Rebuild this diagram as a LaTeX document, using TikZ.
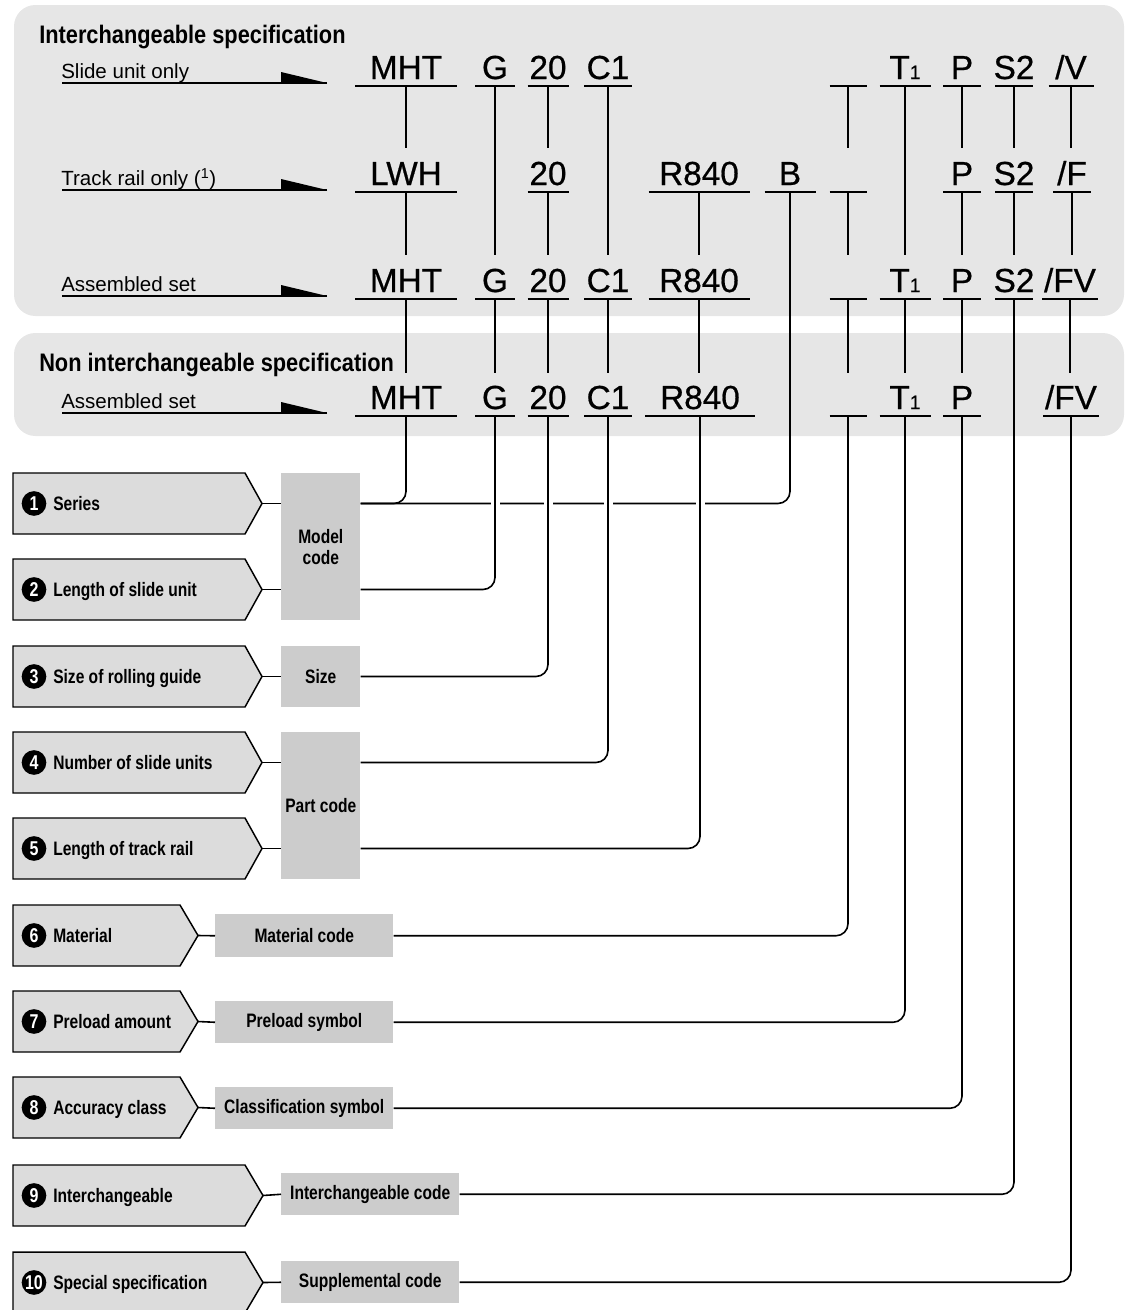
\documentclass[tikz,border=0pt]{standalone}
\usepackage{fontspec}
\setmainfont{Liberation Sans}
\newfontfamily\cond[FakeStretch=0.8]{Liberation Sans}
\newfontfamily\condt[FakeStretch=0.86]{Liberation Sans}
\newfontfamily\codefont[FakeBold=0.6]{Liberation Sans}
\usetikzlibrary{calc}
\definecolor{panelgray}{HTML}{E6E6E6}
\definecolor{pentgray}{HTML}{DCDCDC}
\definecolor{boxgray}{HTML}{CCCCCC}
\tikzset{
  codetxt/.style={font=\codefont\fontsize{25}{25}\selectfont, inner sep=0pt, anchor=base},
  arrlab/.style={font=\fontsize{15.4}{15.4}\selectfont, inner sep=0pt, anchor=base west},
  titletxt/.style={font=\condt\bfseries\fontsize{19}{19}\selectfont, inner sep=0pt, anchor=base west},
  uline/.style={line width=1.2pt},
  conn/.style={line width=1.2pt, rounded corners=9pt},
  pent/.style={fill=pentgray, draw=black, line width=1.1pt},
  numc/.style={circle, fill=black, text=white, inner sep=0pt, minimum size=18.5pt, font=\cond\bfseries\fontsize{15}{15}\selectfont},
  lbl/.style={font=\cond\bfseries\fontsize{14.6}{14.6}\selectfont, inner sep=0pt, anchor=base west},
  cbox/.style={fill=boxgray, inner sep=0pt, align=center, anchor=north west, font=\cond\bfseries\fontsize{14.6}{15.5}\selectfont},
  eraser/.style={draw=white, line width=3pt},
}
% name, x, underline y, half width, text
\newcommand\mkcode[5]{%
  \node[codetxt] (#1) at (#2,#3-7) {#5};
  \draw[uline] (#2-#4,#3) -- (#2+#4,#3);
  \coordinate (#1u) at (#2,#3);
}
% name, line y, text
\newcommand\rowarrow[3]{%
  \node[arrlab] (#1) at (61,#2-5) {#3};
  \coordinate (#1a) at (62,#2);
  \coordinate (#1b) at (327,#2);
  \draw[uline] (#1a) -- (#1b);
  \fill (281,#2-11) -- (281,#2) -- (#1b) -- cycle;
}
% name, top, flat end, tip x, number, text
\newcommand\mkpent[6]{%
  \draw[pent] (13,#2) -- (#3,#2) -- (#4,#2+30.5) -- (#3,#2+61) -- (13,#2+61) -- cycle;
  \coordinate (p#1) at (#4,#2+30.5);
  \node[numc] (n#1) at (34,#2+30.5) {#5};
  \node[lbl] (l#1) at (53,#2+37.5) {#6};
}
\newcommand\Tone{T{\fontsize{14.5}{14.5}\selectfont 1}}
\begin{document}
\begin{tikzpicture}[x=0.75pt,y=-0.75pt]
\useasboundingbox (0,0) rectangle (1125,1310);

% panels
\fill[panelgray, rounded corners=16pt] (14,5) rectangle (1124,316);
\fill[panelgray, rounded corners=16pt] (14,333) rectangle (1124,436);

\node[titletxt] (title1) at (39,43) {Interchangeable specification};
\node[titletxt] (title2) at (39,371) {Non interchangeable specification};

\rowarrow{aslide}{83}{Slide unit only}
\rowarrow{atrack}{190}{Track rail only (\textsuperscript{1})}
\rowarrow{aset}{296}{Assembled set}
\rowarrow{anset}{413}{Assembled set}

\coordinate (stop2) at (0,148);
\coordinate (stop3) at (0,255);
\coordinate (stop4) at (0,373);

% row 1
\mkcode{ra}{406}{86}{51}{MHT}
\mkcode{rag}{495}{86}{20}{G}
\mkcode{ras}{548}{86}{20.5}{20}
\mkcode{rac}{608}{86}{24}{C1}
\mkcode{rab}{848}{86}{18.5}{}
\mkcode{rat}{905}{86}{25.5}{\Tone}
\mkcode{rap}{962}{86}{19}{P}
\mkcode{rai}{1014}{86}{19}{S2}
\mkcode{rav}{1071}{86}{22.5}{/V}
% row 2
\mkcode{rb}{406}{192}{51}{LWH}
\mkcode{rbs}{548}{192}{20.5}{20}
\mkcode{rbr}{699}{192}{50.5}{R840}
\mkcode{rbB}{790}{192}{25.5}{B}
\mkcode{rbb}{848}{192}{18.5}{}
\mkcode{rbp}{962}{192}{19}{P}
\mkcode{rbi}{1014}{192}{19}{S2}
\mkcode{rbv}{1072}{192}{19}{/F}
% row 3
\mkcode{rc}{406}{299}{51}{MHT}
\mkcode{rcg}{495}{299}{20}{G}
\mkcode{rcs}{548}{299}{20.5}{20}
\mkcode{rcc}{608}{299}{24}{C1}
\mkcode{rcr}{699}{299}{50.5}{R840}
\mkcode{rcb}{848}{299}{18.5}{}
\mkcode{rct}{905}{299}{25.5}{\Tone}
\mkcode{rcp}{962}{299}{19}{P}
\mkcode{rci}{1014}{299}{19}{S2}
\mkcode{rcv}{1070}{299}{28}{/FV}
% row 4
\mkcode{rd}{406}{416}{51}{MHT}
\mkcode{rdg}{495}{416}{20}{G}
\mkcode{rds}{548}{416}{20.5}{20}
\mkcode{rdc}{608}{416}{24}{C1}
\mkcode{rdr}{700}{416}{55}{R840}
\mkcode{rdb}{848}{416}{18.5}{}
\mkcode{rdt}{905}{416}{25.5}{\Tone}
\mkcode{rdp}{962}{416}{19}{P}
\mkcode{rdv}{1071}{416}{28}{/FV}

% links row 1
\foreach \n in {ra,ras,rab,rap,rai,rav} \draw[conn] (\n u) -- (\n u |- stop2);
\foreach \n in {rag,rac,rat} \draw[conn] (\n u) -- (\n u |- stop3);
% links row 2
\foreach \n in {rb,rbs,rbr,rbb,rbp,rbi,rbv} \draw[conn] (\n u) -- (\n u |- stop3);
% links row 3
\foreach \n in {rc,rcg,rcs,rcc,rcr,rcb,rct,rcp,rcv} \draw[conn] (\n u) -- (\n u |- stop4);

% pentagons
\mkpent{1}{473}{245}{262}{1}{Series}
\mkpent{2}{559}{245}{262}{2}{Length of slide unit}
\mkpent{3}{646}{245}{262}{3}{Size of rolling guide}
\mkpent{4}{732}{245}{262}{4}{Number of slide units}
\mkpent{5}{818}{245}{262}{5}{Length of track rail}
\mkpent{6}{905}{180}{198}{6}{Material}
\mkpent{7}{991}{180}{198}{7}{Preload amount}
\mkpent{8}{1077}{180}{198}{8}{Accuracy class}
\mkpent{9}{1165}{245}{263}{9}{Interchangeable}
\mkpent{10}{1252}{245}{263}{10}{Special specification}

% code boxes
\node[cbox, minimum width=59.25pt, minimum height=110.25pt] (model) at (281,473) {Model\\code};
\node[cbox, minimum width=59.25pt, minimum height=45.75pt] (size) at (281,646) {Size};
\node[cbox, minimum width=59.25pt, minimum height=110.25pt] (part) at (281,732) {Part code};
\node[cbox, minimum width=133.5pt, minimum height=32.25pt] (mat) at (215,914) {Material code};
\node[cbox, minimum width=133.5pt, minimum height=31.5pt] (pre) at (215,1001) {Preload symbol};
\node[cbox, minimum width=133.5pt, minimum height=31.5pt] (cls) at (215,1087) {Classification symbol};
\node[cbox, minimum width=133.5pt, minimum height=31.5pt] (int) at (281,1173) {Interchangeable code};
\node[cbox, minimum width=133.5pt, minimum height=31.5pt] (sup) at (281,1261) {Supplemental code};

% pentagon to box
\draw[conn] (p1) -- (model.west |- p1);
\draw[conn] (p2) -- (model.west |- p2);
\draw[conn] (p3) -- (size.west |- p3);
\draw[conn] (p4) -- (part.west |- p4);
\draw[conn] (p5) -- (part.west |- p5);
\draw[conn] (p6) -- (mat.west);
\draw[conn] (p7) -- (pre.west);
\draw[conn] (p8) -- (cls.west);
\draw[conn] (p9) -- (int.west);
\draw[conn] (p10) -- (sup.west);

% series connectors
\draw[conn] (model.east |- p1) -| (rbBu);
\draw[conn] (model.east |- p1) -| (rdu);
\foreach \n in {rdg,rds,rdc,rdr}
  \draw[eraser] ($(\n u |- p1)+(-4.5,0)$) -- ($(\n u |- p1)+(4.5,0)$);

% box to code
\draw[conn] (model.east |- p2) -| (rdgu);
\draw[conn] (size.east |- p3) -| (rdsu);
\draw[conn] (part.east |- p4) -| (rdcu);
\draw[conn] (part.east |- p5) -| (rdru);
\draw[conn] (mat.east) -| (rdbu);
\draw[conn] (pre.east) -| (rdtu);
\draw[conn] (cls.east) -| (rdpu);
\draw[conn] (int.east) -| (rciu);
\draw[conn] (sup.east) -| (rdvu);
\end{tikzpicture}
\end{document}
